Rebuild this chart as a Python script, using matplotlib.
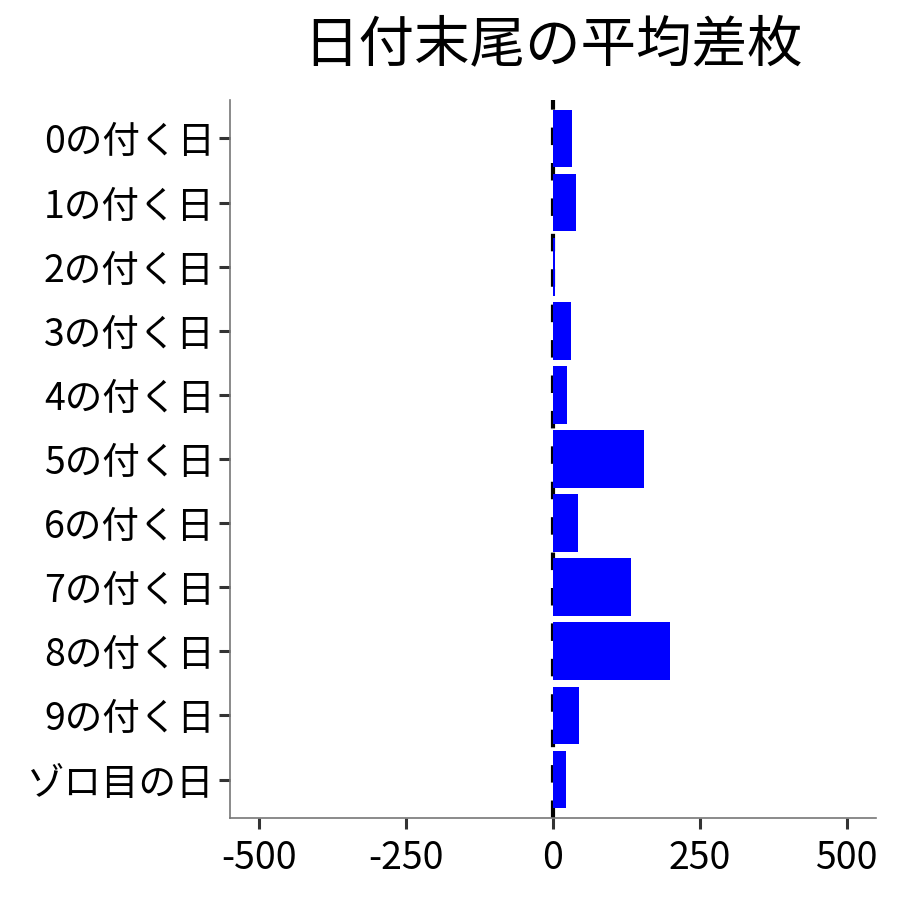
import matplotlib
matplotlib.use("Agg")
import matplotlib.pyplot as plt

plt.rcParams['font.family'] = ['Noto Sans CJK JP', 'DejaVu Sans']

categories = ["0の付く日", "1の付く日", "2の付く日", "3の付く日", "4の付く日",
              "5の付く日", "6の付く日", "7の付く日", "8の付く日", "9の付く日", "ゾロ目の日"]
values = [33, 40, 3, 30, 23, 155, 42, 132, 199, 44, 22]
xticks = [-500, -250, 0, 250, 500]
xticklabels = ["-500", "-250", "0", "250", "500"]
title = "日付末尾の平均差枚"

fig = plt.figure(figsize=(9, 9), dpi=100)
ax = fig.add_axes([0.2556, 0.0911, 0.9733 - 0.2556, 0.8889 - 0.0911])

pos = list(range(len(categories)))
ax.axvline(0, color='black', linestyle=(0, (4.2, 4.3)), linewidth=3.0, zorder=1)
ax.barh(pos, values, height=0.9, color='#0000FF', zorder=2)

ax.set_ylim(len(categories) - 1 + 0.6, -0.6)
ax.set_xlim(-550, 550)
ax.set_yticks(pos)
ax.set_yticklabels(categories, fontsize=27, color='black')
ax.set_xticks(xticks)
ax.set_xticklabels(xticklabels, fontsize=27, color='black')
ax.tick_params(axis='both', length=8, width=2.2, color='#333333')
ax.tick_params(axis='y', pad=3)
ax.tick_params(axis='x', pad=7)

for s in ['top', 'right']:
    ax.spines[s].set_visible(False)
for s in ['left', 'bottom']:
    ax.spines[s].set_color('#777777')
    ax.spines[s].set_linewidth(1.2)

fig.text((0.2556 + 0.9733) / 2, 1 - 45 / 900, title, fontsize=40, ha='center', va='center', color='black')

fig.savefig('out.png', dpi=100, facecolor='white')
